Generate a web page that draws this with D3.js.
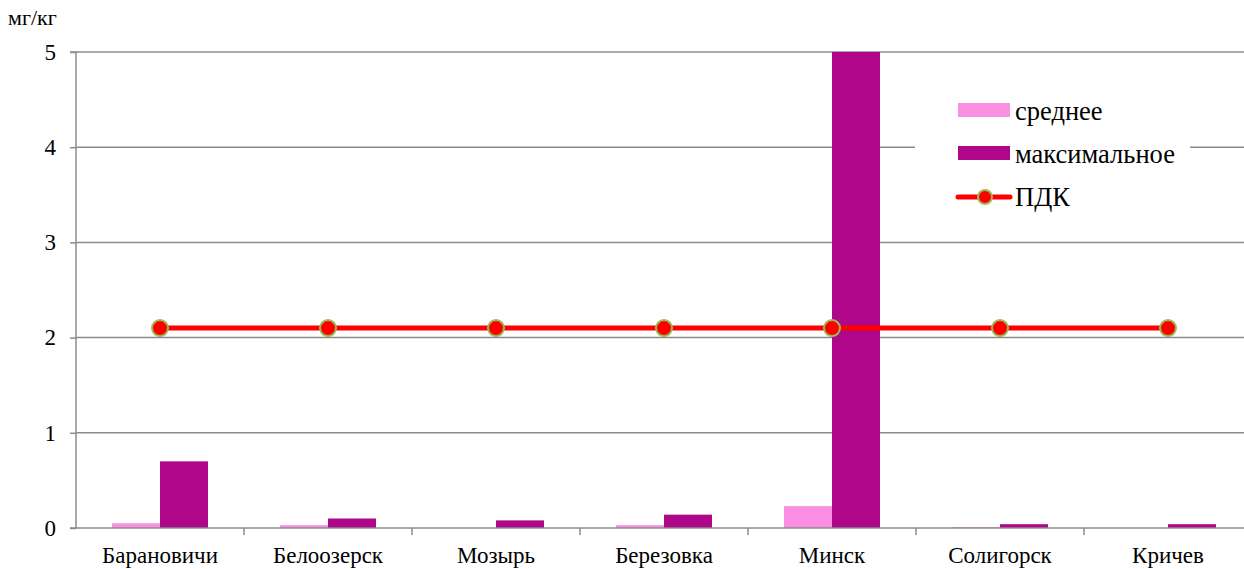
<!DOCTYPE html>
<html><head><meta charset="utf-8">
<script src="https://cdn.jsdelivr.net/npm/d3@7"></script>
<style>body{margin:0;background:#fff}svg{display:block}svg text{font-family:"Liberation Serif","Times New Roman",serif !important;}</style>
</head><body>
<svg id="c" width="1244" height="569"></svg>
<script>
const categories = ["Барановичи","Белоозерск","Мозырь","Березовка","Минск","Солигорск","Кричев"];
const avgValues = [0.05,0.03,0,0.03,0.23,0.01,0];
const maxValues = [0.7,0.1,0.08,0.14,5.0,0.04,0.04];
const pdkValues = [2.1,2.1,2.1,2.1,2.1,2.1,2.1];
const yTicks = [0,1,2,3,4,5];
const seriesNames = ["среднее","максимальное","ПДК"];

(function(){
const svg = d3.select("#c");
const pL = 76, pR = 1252, pT = 52, pB = 528;
const x = d3.scaleBand().domain(categories).range([pL, pR]).paddingInner(0).paddingOuter(0);
const y = d3.scaleLinear().domain([0,5]).range([pB, pT]);
const bw = 48;

// gridlines
svg.append("g").selectAll("line").data(yTicks.filter(d=>d>0)).join("line")
  .attr("x1", pL).attr("x2", 1244).attr("y1", d=>y(d)).attr("y2", d=>y(d))
  .attr("stroke","#8c8c8c").attr("stroke-width",1.5);

// bars
const g = svg.append("g");
g.selectAll("rect.avg").data(categories).join("rect").attr("class","avg")
  .attr("x", d=>x(d)+x.bandwidth()/2-bw).attr("width", bw)
  .attr("y", (d,i)=>y(avgValues[i])).attr("height",(d,i)=>pB-y(avgValues[i]))
  .attr("fill","#fb90e2");
g.selectAll("rect.max").data(categories).join("rect").attr("class","max")
  .attr("x", d=>x(d)+x.bandwidth()/2).attr("width", bw)
  .attr("y", (d,i)=>y(maxValues[i])).attr("height",(d,i)=>pB-y(maxValues[i]))
  .attr("fill","#b0068a");

// axes
const yAxis = d3.axisLeft(y).tickValues(yTicks).tickFormat(d3.format("d")).tickSize(6).tickPadding(14);
const ya = svg.append("g").attr("transform",`translate(${pL},0)`).call(yAxis);
ya.select(".domain").attr("stroke","#8c8c8c").attr("stroke-width",1.5).attr("d",`M-6,${pT}H0V${pB}H-6`);
ya.selectAll(".tick line").attr("stroke","#8c8c8c").attr("stroke-width",1.5);
ya.selectAll(".tick text").attr("font-size",23).attr("fill","#000");

const xAxis = d3.axisBottom(x).tickSize(0).tickPadding(19);
const xa = svg.append("g").attr("transform",`translate(0,${pB})`).call(xAxis);
xa.select(".domain").attr("stroke","#8c8c8c").attr("stroke-width",1.5).attr("d",`M${pL},0H1244`);
xa.selectAll(".tick text").attr("font-size",23).attr("fill","#000");
svg.append("g").selectAll("line").data(categories.slice(1)).join("line")
  .attr("x1", d=>x(d)).attr("x2", d=>x(d)).attr("y1", pB).attr("y2", pB+7)
  .attr("stroke","#8c8c8c").attr("stroke-width",1.5);

// PDK line
const line = d3.line().x((d,i)=>x(categories[i])+x.bandwidth()/2).y(d=>y(d));
svg.append("path").datum(pdkValues).attr("d", line).attr("fill","none")
  .attr("stroke","#ff0000").attr("stroke-width",5);
svg.append("g").selectAll("circle").data(pdkValues).join("circle")
  .attr("cx",(d,i)=>x(categories[i])+x.bandwidth()/2).attr("cy", d=>y(d))
  .attr("r",8).attr("fill","#ff0000").attr("stroke","#9bbb59").attr("stroke-width",2);

// unit label
svg.append("text").attr("x",8).attr("y",25).attr("font-size",22).text("мг/кг");

// legend
const lg = svg.append("g");
lg.append("rect").attr("x",915).attr("y",90).attr("width",275).attr("height",130).attr("fill","#fff");
lg.append("rect").attr("x",958).attr("y",103).attr("width",52).attr("height",14).attr("fill","#fb90e2");
lg.append("rect").attr("x",958).attr("y",146).attr("width",52).attr("height",14).attr("fill","#b0068a");
lg.append("line").attr("x1",958).attr("x2",1010).attr("y1",197).attr("y2",197).attr("stroke","#ff0000").attr("stroke-width",5).attr("stroke-linecap","round");
lg.append("circle").attr("cx",985).attr("cy",197).attr("r",7).attr("fill","#ff0000").attr("stroke","#9bbb59").attr("stroke-width",2);
lg.selectAll("text").data(seriesNames).join("text")
  .attr("x",1015).attr("y",(d,i)=>120+i*43)
  .attr("font-size",26.5).attr("fill","#000").text(d=>d);
})();
</script>
</body></html>
